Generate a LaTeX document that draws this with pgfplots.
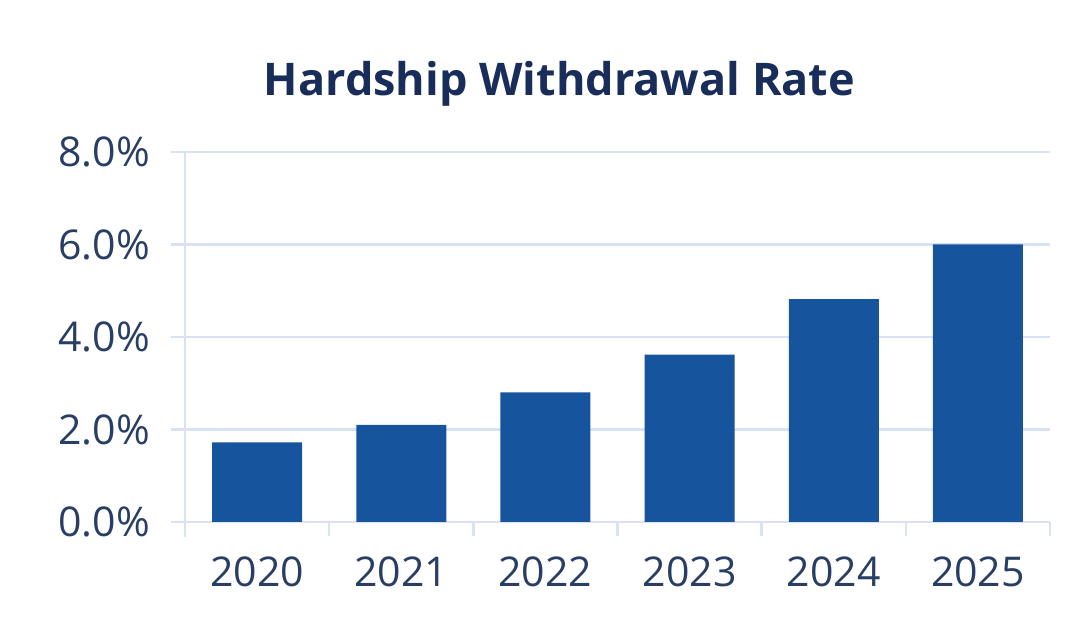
\documentclass[border=0pt]{standalone}
\usepackage{fontspec}
\setmainfont{Open Sans}
\usepackage{pgfplots}
\pgfplotsset{compat=1.18}
\definecolor{barblue}{RGB}{22,84,158}
\definecolor{titlenavy}{RGB}{25,45,90}
\definecolor{ticktext}{RGB}{40,62,100}
\definecolor{gridc}{RGB}{217,226,243}
\begin{document}
\begin{tikzpicture}
\path[use as bounding box] (0,0) rectangle (542.5pt,309.5pt);
\begin{axis}[
    at={(92.5pt,48.5pt)}, anchor=south west,
    scale only axis,
    width=432.5pt, height=185pt,
    xmin=-0.5, xmax=5.5,
    ymin=0, ymax=8,
    axis lines=left,
    axis line style={-, draw=gridc, line width=1.2pt},
    x axis line style={draw=none},
    y axis line style={shorten <=-7.5pt},
    xtick={-0.5,0.5,1.5,2.5,3.5,4.5,5.5},
    x tick label as interval,
    xticklabels={2020,2021,2022,2023,2024,2025},
    ytick={0,2,4,6,8},
    yticklabels={0.0\%,2.0\%,4.0\%,6.0\%,8.0\%},
    tick align=outside,
    major tick length=7pt,
    tick style={draw=gridc, line width=1.2pt},
    ymajorgrids=true,
    grid style={draw=gridc, line width=1.2pt},
    ticklabel style={font=\fontsize{20.5}{24}\selectfont, text=ticktext},
    yticklabel style={xshift=-7pt},
    xticklabel style={yshift=-7pt},
    ybar, bar width=45pt,
    clip=false,
]
\addplot[fill=barblue, draw=none] coordinates {
    (0,1.72)(1,2.1)(2,2.8)(3,3.62)(4,4.82)(5,6.0)
};
\node[font=\bfseries\fontsize{22.5}{26}\selectfont, text=titlenavy]
    at (rel axis cs:0.5,1) [yshift=34pt, xshift=-29pt] {Hardship Withdrawal Rate};
\end{axis}
\end{tikzpicture}
\end{document}
